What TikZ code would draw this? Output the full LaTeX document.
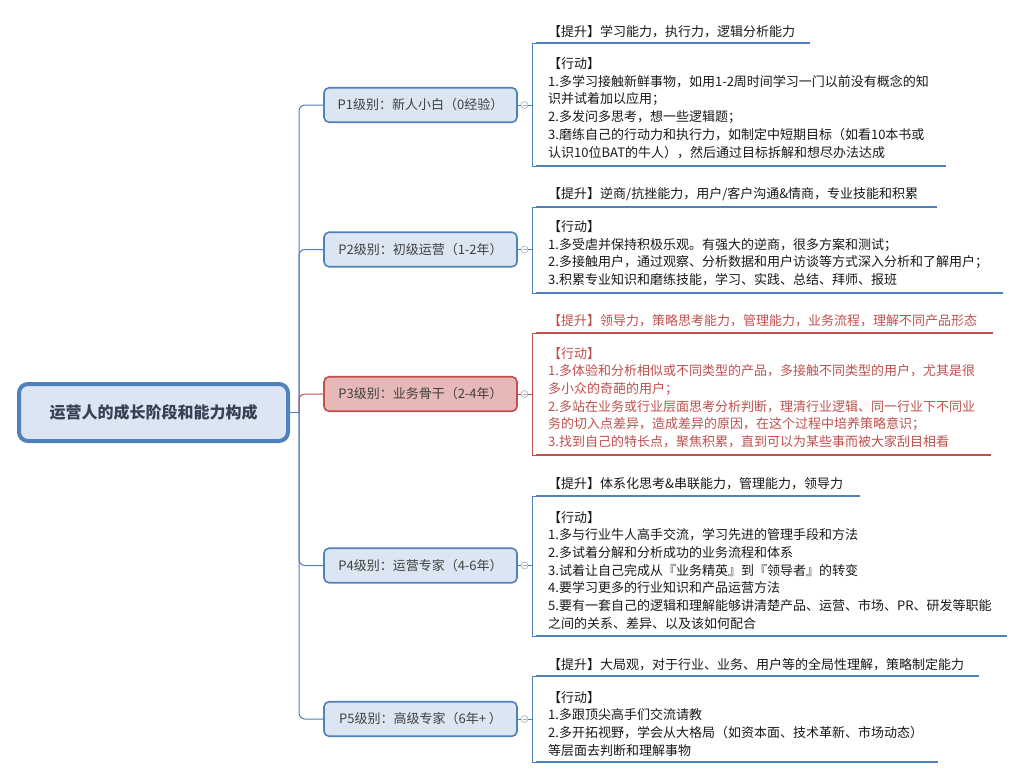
\documentclass[tikz,border=0pt]{standalone}
\usepackage{fontspec}
\setmainfont{Noto Sans CJK SC}
\definecolor{xblue}{RGB}{79,129,189}
\definecolor{xfill}{RGB}{220,230,242}
\definecolor{xred}{RGB}{192,80,77}
\definecolor{xredfill}{RGB}{230,184,183}
\definecolor{xtext}{RGB}{64,64,64}
\definecolor{xdark}{RGB}{25,25,25}
\definecolor{xcirc}{RGB}{165,175,195}
\definecolor{roottext}{RGB}{55,65,85}
\begin{document}
\begin{tikzpicture}[x=1pt,y=-1pt,
  rootbox/.style={draw=xblue, line width=4pt, fill=xfill, rounded corners=9pt,
    minimum width=269pt, minimum height=57pt, inner sep=0pt,
    font=\fontsize{16}{16}\selectfont\bfseries, text=roottext},
  lvl/.style={draw=xblue, line width=1.6pt, fill=xfill, rounded corners=5pt,
    minimum width=193pt, minimum height=34.5pt, inner sep=0pt,
    font=\fontsize{13}{13}\selectfont, text=xtext},
  lvlred/.style={lvl, draw=xred, fill=xredfill},
  txt/.style={anchor=base west, inner sep=0pt, font=\fontsize{13}{13}\selectfont, text=xdark},
  txtred/.style={txt, text=xred},
  conn/.style={draw=xblue, line width=1pt, rounded corners=6pt},
  connred/.style={conn, draw=xred},
  brk/.style={draw=xblue, line width=0.9pt},
  brkred/.style={brk, draw=xred},
  ul/.style={draw=xblue, line width=2.6pt},
  ulred/.style={ul, draw=xred},
  circ/.style={circle, draw=xcirc, fill=white, minimum size=7pt, inner sep=0pt, line width=0.6pt,
    path picture={\draw[xcirc, line width=0.6pt] ([xshift=-2pt]path picture bounding box.center) -- ([xshift=2pt]path picture bounding box.center);}}
]
\useasboundingbox (0,0) rectangle (1024,779);
\fill[white] (0,0) rectangle (1024,779);

% root
\node[rootbox] (root) at (153.5,412.5) {运营人的成长阶段和能力构成};
\coordinate (hub) at (299,412.5);

% level boxes
\node[lvl] (p1) at (420.5,105) {P1级别：新人小白（0经验）};
\node[lvl] (p2) at (420.5,249.5) {P2级别：初级运营（1-2年）};
\node[lvlred] (p3) at (420.5,394) {P3级别：业务骨干（2-4年）};
\node[lvl] (p4) at (420.5,565.5) {P4级别：运营专家（4-6年）};
\node[lvl] (p5) at (420.5,719) {P5级别：高级专家（6年+ ）};

% trunk connectors
\draw[conn] (root.east) -- (hub);
\draw[conn] (hub) |- (p1.west);
\draw[conn] (hub) |- (p2.west);
\draw[connred] (hub) |- (p3.west);
\draw[conn] (hub) |- (p4.west);
\draw[conn] (hub) |- (p5.west);

% collapse circles
\node[circ] (c1) at (524.5,105) {};
\node[circ] (c2) at (524.5,249.5) {};
\node[circ] (c3) at (524.5,394) {};
\node[circ] (c4) at (524.5,565.5) {};
\node[circ] (c5) at (524.5,719) {};
\draw[brk] (p1.east) -- (c1.west);
\draw[brk] (p2.east) -- (c2.west);
\draw[brkred] (p3.east) -- (c3.west);
\draw[brk] (p4.east) -- (c4.west);
\draw[brk] (p5.east) -- (c5.west);

% bracket coordinates
\coordinate (t1) at (532,43);  \coordinate (b1) at (532,166);
\coordinate (t2) at (532,207); \coordinate (b2) at (532,293);
\coordinate (t3) at (532,333); \coordinate (b3) at (532,455);
\coordinate (t4) at (532,496); \coordinate (b4) at (532,636);
\coordinate (t5) at (532,676); \coordinate (b5) at (532,762);

% brackets
\draw[brk] (c1.east) -- (532,105);
\draw[brk] ([xshift=6pt]t1) -- (t1) -- (b1) -- ([xshift=6pt]b1);
\draw[brk] (c2.east) -- (532,249.5);
\draw[brk] ([xshift=6pt]t2) -- (t2) -- (b2) -- ([xshift=6pt]b2);
\draw[brkred] (c3.east) -- (532,394);
\draw[brkred] ([xshift=6pt]t3) -- (t3) -- (b3) -- ([xshift=6pt]b3);
\draw[brk] (c4.east) -- (532,565.5);
\draw[brk] ([xshift=6pt]t4) -- (t4) -- (b4) -- ([xshift=6pt]b4);
\draw[brk] (c5.east) -- (532,719);
\draw[brk] ([xshift=6pt]t5) -- (t5) -- (b5) -- ([xshift=6pt]b5);

% underlines
\draw[ul] (536,43) -- (810,43);
\draw[ul] (536,166) -- (946,166);
\draw[ul] (536,207) -- (937,207);
\draw[ul] (536,293) -- (1003,293);
\draw[ulred] (536,333) -- (993,333);
\draw[ulred] (536,455) -- (991,455);
\draw[ul] (536,496) -- (860,496);
\draw[ul] (536,636) -- (1007,636);
\draw[ul] (536,676) -- (979,676);
\draw[ul] (536,762) -- (938,762);

% P1 texts
\node[txt] (h1) at (548,36) {【提升】学习能力，执行力，逻辑分析能力};
\foreach \t [count=\i] in {{【行动】},
  {1.多学习接触新鲜事物，如用1-2周时间学习一门以前没有概念的知},
  {识并试着加以应用；},
  {2.多发问多思考，想一些逻辑题；},
  {3.磨练自己的行动力和执行力，如制定中短期目标（如看10本书或},
  {认识10位BAT的牛人），然后通过目标拆解和想尽办法达成}}
  \node[txt] (a1l\i) at (548,{63.5+17.7*(\i-1)+5}) {\t};

% P2 texts
\node[txt] (h2) at (548,198) {【提升】逆商/抗挫能力，用户/客户沟通\&情商，专业技能和积累};
\foreach \t [count=\i] in {{【行动】},
  {1.多受虐并保持积极乐观。有强大的逆商，很多方案和测试；},
  {2.多接触用户，通过观察、分析数据和用户访谈等方式深入分析和了解用户；},
  {3.积累专业知识和磨练技能，学习、实践、总结、拜师、报班}}
  \node[txt] (a2l\i) at (548,{226.5+17.7*(\i-1)+5}) {\t};

% P3 texts
\node[txtred] (h3) at (548,325) {【提升】领导力，策略思考能力，管理能力，业务流程，理解不同产品形态};
\foreach \t [count=\i] in {{【行动】},
  {1.多体验和分析相似或不同类型的产品，多接触不同类型的用户，尤其是很},
  {多小众的奇葩的用户；},
  {2.多站在业务或行业层面思考分析判断，理清行业逻辑、同一行业下不同业},
  {务的切入点差异，造成差异的原因，在这个过程中培养策略意识；},
  {3.找到自己的特长点，聚焦积累，直到可以为某些事而被大家刮目相看}}
  \node[txtred] (a3l\i) at (548,{353+17.7*(\i-1)+5}) {\t};

% P4 texts
\node[txt] (h4) at (548,488) {【提升】体系化思考\&串联能力，管理能力，领导力};
\foreach \t [count=\i] in {{【行动】},
  {1.多与行业牛人高手交流，学习先进的管理手段和方法},
  {2.多试着分解和分析成功的业务流程和体系},
  {3.试着让自己完成从『业务精英』到『领导者』的转变},
  {4.要学习更多的行业知识和产品运营方法},
  {5.要有一套自己的逻辑和理解能够讲清楚产品、运营、市场、PR、研发等职能},
  {之间的关系、差异、以及该如何配合}}
  \node[txt] (a4l\i) at (548,{517+17.7*(\i-1)+5}) {\t};

% P5 texts
\node[txt] (h5) at (548,669) {【提升】大局观，对于行业、业务、用户等的全局性理解，策略制定能力};
\foreach \t [count=\i] in {{【行动】},
  {1.多跟顶尖高手们交流请教},
  {2.多开拓视野，学会从大格局（如资本面、技术革新、市场动态）},
  {等层面去判断和理解事物}}
  \node[txt] (a5l\i) at (548,{697+17.7*(\i-1)+5}) {\t};
\end{tikzpicture}
\end{document}
